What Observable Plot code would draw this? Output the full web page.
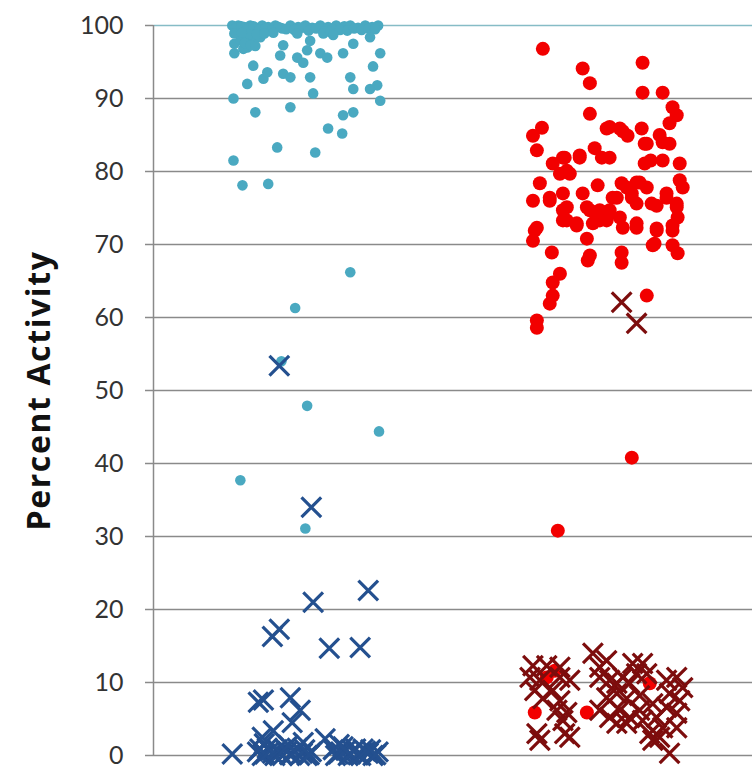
<!DOCTYPE html>
<html>
<head>
<meta charset="utf-8">
<script src="https://cdn.jsdelivr.net/npm/d3@7"></script>
<script src="https://cdn.jsdelivr.net/npm/@observablehq/plot@0.6"></script>
<style>
  html, body { margin: 0; padding: 0; background: #fff; }
  #chart svg { display: block; }
</style>
</head>
<body>
<div id="chart"></div>
<script>
// Y axis
const yTicks = [0, 10, 20, 30, 40, 50, 60, 70, 80, 90, 100];
const yLabel = "Percent Activity";

// Group 1 (x ≈ 1): teal dots, [jittered x, percent]
const group1Dots = [
  [0.763,100],[0.783,100],[0.803,99.8],[0.823,100],[0.843,99.7],[0.863,100],[0.883,99.8],[0.907,100],
  [0.930,99.6],[0.957,100],[0.983,99.8],[1.007,100],[1.030,99.7],[1.057,100],[1.083,99.8],[1.110,100],
  [1.137,99.9],[1.157,100],[1.183,99.7],[1.207,100],[1.230,99.8],[1.250,100],
  [0.773,99.6],[0.793,99.9],[0.813,99.5],[0.833,99.9],[0.853,99.4],[0.873,99.6],[0.895,99.3],[0.918,99.8],
  [0.943,99.5],[0.970,99.4],[0.995,99.7],[1.018,99.3],[1.043,99.6],[1.070,99.2],[1.097,99.5],[1.123,99.4],
  [1.147,99.3],[1.170,99.6],[1.195,99.4],[1.218,99.6],[1.240,99.5],
  [0.770,98.9],[0.770,97.5],[0.770,96.2],[0.813,98.4],[0.813,97.0],[0.833,97.9],[0.857,98.4],[0.800,96.8],
  [0.820,98.8],[0.900,99.0],[0.980,98.9],[1.067,98.9],[1.090,99.1],[1.100,98.7],
  [0.790,98.0],[0.805,97.6],[0.825,97.3],[0.845,98.8],[0.870,98.9],[0.795,99.0],[0.840,97.2],
  [0.833,94.5],[0.813,92.0],[0.867,92.7],[0.880,93.6],[0.933,97.3],[0.923,95.9],[0.933,93.4],[0.957,92.9],
  [0.957,88.8],[0.980,95.6],[1.000,94.9],[1.023,97.9],[1.013,96.6],[1.023,92.9],[1.033,90.7],[1.057,96.2],
  [1.080,95.6],[1.133,96.2],[1.167,97.5],[1.157,92.9],[1.167,91.3],[1.223,98.4],[1.257,96.2],[1.233,94.4],
  [1.247,91.8],[1.223,91.3],[1.257,89.7],[0.767,90.0],[0.840,88.1],[1.167,88.1],[1.133,87.7],[1.083,85.9],
  [1.130,85.2],[0.913,83.3],[1.040,82.6],[0.767,81.5],[0.797,78.1],[0.883,78.3],
  [1.157,66.2],[0.973,61.3],[0.927,54.0],[1.013,47.9],[1.253,44.4],[0.790,37.7],[1.007,31.1]
];

// Group 1 (x ≈ 1): dark blue crosses
const group1Crosses = [
  [0.763,0.2],[0.847,0.5],[0.863,0.0],[0.880,1.0],[0.897,0.3],[0.913,0.8],[0.930,0.0],[0.947,0.6],
  [0.963,0.2],[0.980,1.0],[0.997,0.3],[1.013,0.0],[1.027,0.5],
  [0.855,0.9],[0.872,0.2],[0.889,0.6],[0.905,0.0],[0.922,0.4],[0.938,0.9],[0.955,0.1],[0.972,0.5],
  [0.988,0.0],[1.005,0.8],[1.020,0.1],
  [1.100,0.8],[1.117,0.2],[1.133,1.2],[1.150,0.0],[1.167,0.6],[1.183,0.1],[1.200,0.9],[1.217,0.3],
  [1.233,0.0],[1.250,0.5],[1.108,0.0],[1.125,0.5],[1.142,0.7],[1.158,0.2],[1.175,0.9],[1.192,0.0],
  [1.208,0.6],[1.225,0.8],[1.242,0.1],
  [0.870,1.6],[0.950,1.4],[1.000,1.8],[1.120,1.5],
  [0.850,7.3],[0.867,7.6],[0.957,7.9],[0.990,6.2],[0.963,4.5],[0.900,3.4],[0.863,2.5],[1.073,2.3],
  [0.897,16.3],[0.920,17.3],[1.087,14.7],[1.190,14.8],[1.033,21.0],[1.217,22.6],[1.027,34.0],[0.920,53.4]
];

// Group 2 (x ≈ 2): red dots
const group2Dots = [
  [1.800,96.8],[1.933,94.1],[1.957,92.1],[2.133,94.9],[2.133,90.8],[2.200,90.8],[1.957,87.9],[2.233,88.8],
  [2.247,87.7],[2.223,86.6],[1.767,84.9],[1.797,86.0],[1.780,82.9],[2.013,85.9],[2.057,85.9],[2.083,84.9],
  [2.130,85.9],[2.140,83.8],[2.200,84.0],[2.223,83.8],[1.973,83.2],[1.997,81.9],[2.023,81.9],[1.923,82.2],
  [1.873,81.9],[1.833,81.1],[2.140,81.1],[2.200,81.5],[2.257,81.1],[1.857,79.7],[1.890,79.7],[1.983,78.1],
  [1.790,78.4],[1.767,76.0],[1.823,76.0],[1.867,77.0],[1.880,75.1],[1.933,77.0],[1.990,74.7],[2.033,76.4],
  [2.080,77.8],[2.113,78.5],[2.147,77.8],[2.097,76.4],[2.163,75.6],[2.213,77.0],[2.257,78.8],[2.267,77.8],
  [2.247,75.6],[2.250,73.7],[1.957,74.7],[1.990,73.3],[2.023,74.2],[2.057,73.7],[2.113,72.3],[1.867,73.3],
  [1.913,72.9],[1.773,71.9],[1.767,70.5],[1.830,68.9],[1.947,70.8],[1.957,68.5],[2.063,68.9],[2.180,71.9],
  [2.173,70.1],[2.233,71.9],[2.233,69.9],[2.250,68.8],[1.950,67.8],[2.063,67.5],[2.167,69.9],[1.857,66.0],
  [1.833,64.8],[1.833,63.0],[1.823,61.9],[1.780,59.6],[1.780,58.6],[2.147,63.0],
  [2.023,86.1],[2.067,85.5],[2.190,85.0],[2.147,83.8],[1.867,81.9],[1.923,81.9],[2.160,81.5],[1.880,80.1],
  [2.063,78.4],[2.123,78.5],[1.823,76.4],[2.047,76.4],[2.097,77.0],[2.213,76.4],[2.180,75.3],[2.247,75.1],
  [1.867,74.7],[1.947,75.1],[1.980,74.2],[2.023,74.7],[2.113,75.6],[1.780,72.3],[1.880,73.3],[1.913,72.6],
  [1.967,72.9],[2.013,73.3],[2.067,72.3],[2.113,72.9],[2.180,72.2],[2.233,72.6],
  [2.097,40.8],[1.850,30.8],
  [1.813,10.7],[1.773,5.9],[1.947,5.9],[2.157,9.9],[1.840,11.6]
];

// Group 2 (x ≈ 2): dark red crosses
const group2Crosses = [
  [1.767,12.3],[1.813,12.3],[1.857,12.1],[1.757,10.7],[1.790,10.3],[1.857,10.7],[1.890,10.3],[1.773,8.9],
  [1.833,8.9],[1.800,7.8],[1.857,7.5],[1.847,6.2],[1.880,5.9],[1.867,4.8],[1.780,3.0],[1.873,3.0],
  [1.790,2.1],[1.890,2.5],[1.967,14.0],[2.013,13.0],[1.990,12.1],[1.990,10.7],[2.023,10.3],[2.047,9.9],
  [2.067,10.7],[2.090,9.9],[2.100,12.6],[2.133,12.6],[2.113,11.2],[2.147,11.2],[2.013,7.9],[2.047,8.5],
  [2.080,7.8],[2.123,8.2],[1.990,6.2],[2.023,5.2],[2.057,6.2],[2.090,5.2],[2.123,6.2],[2.047,4.4],
  [2.080,4.4],[2.133,4.8],[2.167,7.1],[2.180,5.2],[2.213,10.3],[2.247,10.7],[2.267,9.3],[2.223,8.5],
  [2.257,7.5],[2.213,6.6],[2.247,5.8],[2.200,3.8],[2.157,3.0],[2.190,2.5],[2.247,3.8],[2.223,0.3],
  [2.167,2.1],[2.063,62.1],[2.113,59.2]
];

const gridColor = "#8a8a8a";

const chart = Plot.plot({
  width: 752,
  height: 768,
  marginLeft: 153,
  marginRight: 0,
  marginTop: 25,
  marginBottom: 13,
  style: { fontFamily: "Lato, sans-serif", background: "#fff", overflow: "visible" },
  x: { domain: [0.5, 2.5], axis: null },
  y: { domain: [0, 100], ticks: yTicks },
  marks: [
    Plot.gridY(yTicks.filter(d => d < 100), { stroke: gridColor, strokeOpacity: 1, strokeWidth: 1.5 }),
    Plot.gridY([100], { stroke: "#86bcc6", strokeOpacity: 1, strokeWidth: 1.5 }),
    Plot.ruleX([0.5], { y1: 0, y2: 100, stroke: gridColor, strokeWidth: 1.5 }),
    Plot.axisY({
      ticks: yTicks,
      tickSize: 8,
      tickPadding: 22,
      stroke: gridColor,
      strokeWidth: 1.5,
      fontSize: 25,
      fill: "#333",
      label: yLabel,
      labelAnchor: "center",
      labelArrow: "none",
      labelOffset: 126
    }),
    Plot.dot(group1Dots, { x: d => d[0], y: d => d[1], r: 5.3, fill: "#4aa9c1", stroke: "none" }),
    Plot.dot(group2Dots, { x: d => d[0], y: d => d[1], r: 7, fill: "#f20000", stroke: "none" }),
    Plot.dot(group1Crosses, { x: d => d[0], y: d => d[1], symbol: "times", r: 9, stroke: "#24508f", strokeWidth: 3.2 }),
    Plot.dot(group2Crosses, { x: d => d[0], y: d => d[1], symbol: "times", r: 9, stroke: "#7d0d0d", strokeWidth: 3.2 })
  ]
});
document.getElementById("chart").appendChild(chart);
// bold label styling
chart.querySelectorAll("g[aria-label='y-axis label'] text").forEach(t => {
  t.setAttribute("font-weight", "bold");
  t.setAttribute("font-size", "32");
  t.setAttribute("letter-spacing", "1.6");
  t.setAttribute("font-family", "'Open Sans', sans-serif");
  t.setAttribute("fill", "#111");
});
</script>
</body>
</html>
